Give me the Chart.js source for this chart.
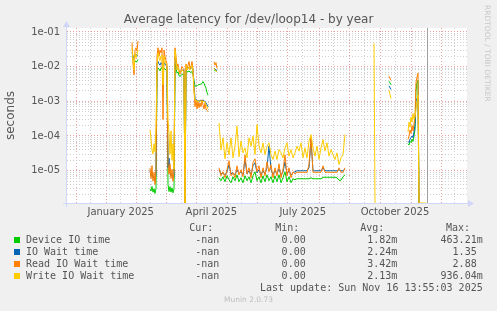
<!DOCTYPE html>
<html>
<head>
<meta charset="utf-8">
<title>Average latency for /dev/loop14 - by year</title>
<script src="https://cdn.jsdelivr.net/npm/chart.js@4.4.1/dist/chart.umd.min.js"></script>
<style>
  html, body { margin: 0; padding: 0; background: #f0f0f0; }
  #wrap { position: relative; width: 497px; height: 311px; overflow: hidden; }
  #chart { position: absolute; left: 0; top: 0; }
  .title { position: absolute; left: 0; top: 12px; width: 497px; text-align: center;
           font: 12px/14px "DejaVu Sans", sans-serif; color: #555; }
  .brand { position: absolute; left: 483px; top: 5px; writing-mode: vertical-rl;
           font: 7.5px/9px "DejaVu Sans", sans-serif; color: #c8c8c8; }
  .foot { position: absolute; left: 0; width: 497px; top: 295px; text-align: center;
          font: 7.5px/9px "DejaVu Sans", sans-serif; color: #bdbdbd; }
  .lt { position: absolute; white-space: pre; font: 10px/12px "DejaVu Sans Mono", monospace; color: #555; }
  .sw { position: absolute; left: 14px; width: 6px; height: 6px; }
</style>
</head>
<body>
<div id="wrap">
  <canvas id="chart" width="497" height="311"></canvas>
  <div class="title">Average latency for /dev/loop14 - by year</div>
  <div class="brand">RRDTOOL / TOBI OETIKER</div>
  <div id="legend"></div>
  <div class="foot">Munin 2.0.73</div>
</div>
<script>
// ===== DATA =====
// x position of every sample, in days from the left edge of the plot
const days = [
  65, 66, 67, 68, 69, 70, 71, 72,
  83, 84, 85, 86, 87, 88, 89, 90, 91, 92, 93, 94, 95, 96, 97, 98, 99, 100,
  101, 102, 103, 104, 105, 106, 107, 108, 109, 110, 111, 112, 113, 114, 115, 116, 117, 118, 119, 120,
  121, 122, 123, 124, 125, 126, 127, 128, 129, 130, 131, 132, 133, 134, 135, 136, 137, 138, 139, 140, 141, 142,
  147, 148, 149, 150, 151,
  152, 154, 156, 158, 160, 162, 164, 166, 168, 170, 172, 174, 176, 178, 180, 182, 184, 186, 188, 190,
  192, 194, 196, 198, 200, 202, 204, 206, 208, 210, 212, 214, 216, 218, 220, 222, 224, 226, 228, 230,
  232, 234, 236, 238, 240, 242, 244, 246, 248, 250, 252, 254, 256, 258, 260, 262, 264, 266, 268, 270,
  272, 274, 276, 278, 279,
  307, 308, 309,
  322, 324, 325,
  341, 342, 343, 344, 345, 346, 347, 348, 349, 350, 351, 352, 359, 360
];

const deviceIO = [
  0.02, 0.017, 0.016, 0.015, 0.0135, 0.014, 0.016, null,
  3e-6, 2.6e-6, 3.5e-6, 2.4e-6, 3e-6, 2.2e-6, 3e-6,
  0.008, 0.009, 0.0085, 0.0075, 0.009, 0.0095, 0.007, 0.009, 0.0085, 0.008, 0.0075,
  4e-6, 2.5e-6, 3.5e-6, 2.4e-6, 3.2e-6, 2.3e-6, 3e-6,
  0.012, 0.009, 0.0065, 0.007, 0.0055, 0.0052, 0.0055, 0.006, 0.006, 0.0058,
  0,
  0.008, 0.007, 0.0072, 0.0075, 0.007, 0.0068, 0.0072, 0.006,
  0.004, 0.0028, 0.0027, 0.0028, 0.003, 0.003, 0.0031, 0.0031, 0.0033, 0.0037, 0.0033, 0.0028, 0.0024, 0.0018, 0.0015,
  null,
  0.008, 0.0078, 0.0074, 0.0071, null,
  6.25e-6, 5.13e-6, 6.68e-6, 4.8e-6, 7.14e-6, 5.48e-6, 4.49e-6, 6.68e-6, 5.13e-6, 7.62e-6,
  4.8e-6, 6.25e-6, 4.49e-6, 7.14e-6, 5.13e-6, 6.68e-6, 4.49e-6, 7.14e-6, 9.3e-6, 5.13e-6,
  6.68e-6, 4.49e-6, 7.14e-6, 4.8e-6, 7.62e-6, 5.13e-6, 6.68e-6, 4.49e-6, 7.14e-6, 4.8e-6,
  7.62e-6, 4.49e-6, 6.25e-6, 9.3e-6, 4.8e-6, 6.68e-6, 4.49e-6, 5.85e-6, 5.48e-6,
  5.85e-6, 5.85e-6, 5.85e-6, 5.85e-6, 5.85e-6, 5.85e-6, 5.85e-6, 6.25e-6, 5.85e-6, 5.85e-6, 5.85e-6, 5.85e-6, 5.85e-6,
  6.46e-6, 6.46e-6, 6.46e-6, 6.46e-6, 6.46e-6, 6.46e-6, 6.46e-6, 6.25e-6, 5.3e-6, 5.3e-6, 6.68e-6, 7.62e-6,
  null,
  null, null, null,
  0.0038, 0.003, null,
  6e-5, 5.5e-5, 7e-5, 6.5e-5, 8e-5, 7e-5, 1e-4, 1.5e-4, 0.002, 0.0035, 0.004, 0, null, null
];

const ioWait = [
  0.026, 0.02, 0.018, 0.022, 0.023, 0.021, 0.02, null,
  1e-5, 7e-6, 9e-6, 6e-6, 7e-6, 5e-6, 8e-6,
  0.012, 0.014, 0.012, 0.011, 0.013, 0.012, 0.008, 0.013, 0.012, 0.011, 0.01,
  1.2e-5, 2.3e-5, 9e-6, 7e-6, 8e-6, 6e-6, 7e-6,
  0.02, 0.012, 0.0085, 0.009, 0.0075, 0.007, 0.0072, 0.008, 0.0078, 0.0075,
  0,
  0.0095, 0.008, 0.009, 0.0095, 0.0085, 0.009, 0.0095, 0.008,
  0.003, 0.0012, 0.0011, 0.0011, 0.001, 0.00105, 0.001, 0.0011, 0.001, 0.0011, 0.001, 0.001, 0.0009, 0.0008, 0.0007,
  null,
  0.009, 0.0085, 0.008, 0.0078, null,
  1.06e-5, 8.15e-6, 8.7e-6, 7.62e-6, 9.3e-6, 1.48e-5, 8.15e-6, 8.7e-6, 7.62e-6, 1.06e-5,
  8.15e-6, 9.3e-6, 7.62e-6, 2.06e-5, 8.15e-6, 9.93e-6, 7.62e-6, 1.38e-5, 1.69e-5, 8.7e-6,
  1.06e-5, 7.62e-6, 9.93e-6, 8.15e-6, 1.21e-5, 5.19e-5, 1.06e-5, 7.62e-6, 9.93e-6, 8.15e-6,
  1.13e-5, 7.62e-6, 9.3e-6, 1.8e-5, 8.15e-6, 9.93e-6, 7.62e-6, 8.7e-6, 9.3e-6,
  9.93e-6, 9.93e-6, 9.93e-6, 9.93e-6, 9.93e-6, 9.93e-6, 1.21e-5, 7.73e-5, 9.93e-6, 9.93e-6, 9.93e-6, 9.93e-6, 9.93e-6,
  1.21e-5, 9.93e-6, 9.93e-6, 9.93e-6, 9.93e-6, 9.93e-6, 9.93e-6, 9.93e-6, 1.06e-5, 9.93e-6, 9.93e-6, 1.13e-5,
  null,
  null, null, null,
  0.0028, 0.0022, null,
  7e-5, 6.5e-5, 8e-5, 9e-5, 1e-4, 9e-5, 1.3e-4, 2e-4, 0.001, 0.0012, 0.0011, 0, null, null
];

const readWait = [
  0.05, 0.0125, 0.0058, 0.03, 0.035, 0.028, 0.055, null,
  1.2e-5, 6e-6, 1.4e-5, 5e-6, 9e-6, 4e-6, 1e-5,
  0.02, 0.035, 0.02, 0.03, 0.025, 0.035, 3e-4, 0.03, 0.02, 0.015, 0.012,
  1.5e-5, 8e-6, 1.6e-5, 6e-6, 1.1e-5, 5e-6, 9e-6,
  0.035, 0.02, 0.01, 0.012, 0.008, 0.006, 0.008, 0.01, 0.009, 0.008,
  0,
  0.012, 0.008, 0.011, 0.014, 0.009, 0.01, 0.014, 0.008,
  0.002, 7e-4, 0.0011, 6e-4, 0.001, 6.5e-4, 9e-4, 7e-4, 0.0011, 8e-4, 6e-4, 9e-4, 6e-4, 5.5e-4, 5e-4,
  null,
  0.014, 0.011, 0.013, 0.009, null,
  1.21e-5, 7.14e-6, 9.3e-6, 6.25e-6, 1.06e-5, 1.93e-5, 7.14e-6, 8.7e-6, 6.25e-6, 1.38e-5,
  7.62e-6, 1.06e-5, 6.68e-6, 2.86e-5, 8.15e-6, 1.21e-5, 6.25e-6, 1.69e-5, 2.2e-5, 9.3e-6,
  1.38e-5, 6.25e-6, 1.21e-5, 7.14e-6, 1.8e-5, 9.3e-6, 1.48e-5, 6.25e-6, 1.21e-5, 7.14e-6,
  1.58e-5, 6.25e-6, 1.06e-5, 2.86e-5, 7.14e-6, 1.21e-5, 6.25e-6, 9.3e-6, 8.15e-6,
  9e-6, 9e-6, 9e-6, 9e-6, 9e-6, 9e-6, 1.48e-5, 9.4e-5, 9e-6, 9e-6, 9e-6, 9e-6, 9e-6,
  1.38e-5, 9e-6, 9e-6, 9e-6, 9e-6, 9e-6, 9e-6, 9e-6, 1.21e-5, 9e-6, 9e-6, 1.21e-5,
  null,
  null, null, null,
  0.0053, 0.004, null,
  8e-5, 1e-4, 1.5e-4, 1.2e-4, 2e-4, 1.4e-4, 2.2e-4, 4e-4, 0.0035, 0.005, 0.0065, 0, null, null
];

const writeWait = [
  0.035, 0.015, 0.008, 0.025, 0.018, 0.022, 0.03, null,
  1.5e-4, 8e-5, 4e-5, 3e-5, 6e-5, 3.5e-5, 2e-4,
  0.01, 0.025, 0.018, 0.015, 0.02, 0.022, 0.003, 0.02, 0.015, 0.012, 0.01,
  3e-4, 1.2e-4, 3e-5, 1.4e-4, 2e-5, 6e-5, 1.1e-5,
  0.03, 0.015, 0.008, 0.01, 0.007, 0.0065, 0.007, 0.008, 0.0075, 0.007,
  0,
  0.011, 0.008, 0.009, 0.01, 0.008, 0.009, 0.011, 0.007,
  0.002, 0.0011, 0.001, 0.00105, 0.001, 0.001, 0.00105, 0.001, 0.00095, 0.001, 0.001, 0.00095, 0.0008, 0.0007, 0.0006,
  null,
  0.009, 0.008, 0.0075, 0.007, null,
  2.38e-4, 3.99e-5, 8.82e-5, 2.2e-5, 6.33e-5, 2.86e-5, 8.82e-5, 2.35e-5, 5.19e-5, 1.95e-4,
  2.51e-5, 7.23e-5, 3.27e-5, 4.55e-5, 2.35e-5, 8.82e-5, 5.09e-5, 9.87e-5, 2.92e-5, 2.13e-4,
  5.09e-5, 3.27e-5, 6.33e-5, 2.92e-5, 5.09e-5, 6.33e-5, 2.92e-5, 2.1e-5, 3.66e-5, 2.1e-5,
  4.07e-5, 3.27e-5, 2.35e-5, 4.55e-5, 6.33e-5, 2.63e-5, 4.07e-5, 2.35e-5, 3.27e-5,
  5.09e-5, 3.66e-5, 6.33e-5, 2.35e-5, 4.55e-5, 2.35e-5, 7.09e-5, 1.1e-4, 4.55e-5, 2.63e-5, 5.09e-5, 2.1e-5, 4.55e-5,
  7.88e-5, 3.66e-5, 6.33e-5, 2.63e-5, 4.07e-5, 2.92e-5, 2.1e-5, 3.27e-5, 1.51e-5, 2.35e-5, 2.92e-5, 1.1e-4,
  null,
  0.047, 0, null,
  0.0021, 0.0012, null,
  1.3e-4, 2.5e-4, 1.8e-4, 3.5e-4, 2.5e-4, 4.5e-4, 3e-4, 3.5e-4, 6e-4, 0.001, 0.0015, 0, 0, null
];

const seriesNames = ['Device IO time', 'IO Wait time', 'Read IO Wait time', 'Write IO Wait time'];
const seriesColors = ['#00cc00', '#0066b3', '#ff8000', '#ffcc00'];
const curVals = ['-nan', '-nan', '-nan', '-nan'];
const minVals = ['0.00', '0.00', '0.00', '0.00'];
const avgVals = ['1.82m', '2.24m', '3.42m', '2.13m'];
const maxVals = ['463.21m', '1.35 ', '2.88 ', '936.04m'];
const lastUpdate = 'Last update: Sun Nov 16 13:55:03 2025';

// axis
const yFloor = 1.17e-6;
const yCeil = 0.13;
const xSpan = 400;
const majorDays = [9, 39, 69, 99, 129, 160, 190, 220, 252, 282, 313, 344, 374];
const monthDays = [23, 53.7, 83.7, 114, 144.3, 174.7, 204.7, 235.7, 266.3, 297.3, 328, 387];
const labelDays = [53.7, 144.3, 235.7, 328];
const labelTexts = ['January 2025', 'April 2025', 'July 2025', 'October 2025'];
const nowDay = 359.5;

// ===== CHART =====
// rrdtool draws zero at the bottom of the axis
const toPoints = vals => days.map((d, i) => ({ x: d, y: vals[i] === 0 ? yFloor : vals[i] }));

const allSeries = [deviceIO, ioWait, readWait, writeWait];

const rrdFrame = {
  id: 'rrdFrame',
  beforeDraw(chart) {
    const { ctx, chartArea: a } = chart;
    ctx.save();
    ctx.fillStyle = '#f0f0f0';
    ctx.fillRect(0, 0, chart.width, chart.height);
    ctx.fillStyle = '#ffffff';
    ctx.fillRect(a.left, a.top, a.right - a.left, a.bottom - a.top);
    ctx.restore();
  },
  afterDraw(chart) {
    const { ctx, chartArea: a, scales } = chart;
    ctx.save();
    ctx.lineWidth = 1;
    // vertical rule
    const xr = Math.round(scales.x.getPixelForValue(nowDay)) + 0.5;
    ctx.strokeStyle = '#a0a0a0';
    ctx.beginPath();
    ctx.moveTo(xr, a.top);
    ctx.lineTo(xr, a.bottom);
    ctx.stroke();
    // axes + arrows
    ctx.strokeStyle = '#cfd6f8';
    ctx.fillStyle = '#cfd6f8';
    const x0 = a.left - 0.5, y0 = a.bottom + 0.5;
    ctx.beginPath();
    ctx.moveTo(a.left - 4, y0);
    ctx.lineTo(a.right + 2, y0);
    ctx.moveTo(x0, a.bottom + 4);
    ctx.lineTo(x0, a.top - 1);
    ctx.stroke();
    ctx.beginPath();
    ctx.moveTo(a.right + 1, y0 - 3.5);
    ctx.lineTo(a.right + 7, y0);
    ctx.lineTo(a.right + 1, y0 + 3.5);
    ctx.closePath();
    ctx.fill();
    ctx.beginPath();
    ctx.moveTo(x0 - 3.5, a.top - 1);
    ctx.lineTo(x0, a.top - 7);
    ctx.lineTo(x0 + 3.5, a.top - 1);
    ctx.closePath();
    ctx.fill();
    ctx.restore();
  }
};

const isDecade = v => Math.abs(Math.log10(v) - Math.round(Math.log10(v))) < 1e-9;

new Chart(document.getElementById('chart'), {
  type: 'line',
  data: {
    datasets: allSeries.map((vals, i) => ({
      label: seriesNames[i],
      data: toPoints(vals),
      borderColor: seriesColors[i],
      borderWidth: 1,
      pointRadius: 0,
      tension: 0,
      fill: false,
      spanGaps: false,
      order: 4 - i
    }))
  },
  options: {
    responsive: false,
    devicePixelRatio: 1,
    animation: false,
    layout: { padding: { top: 28, right: 30, bottom: 0, left: 0 }, autoPadding: false },
    plugins: { legend: { display: false }, tooltip: { enabled: false } },
    scales: {
      x: {
        type: 'linear',
        min: 0,
        max: xSpan,
        afterFit: s => { s.height = 108; },
        afterBuildTicks: s => {
          s.ticks = majorDays.concat(monthDays).sort((a, b) => a - b).map(v => ({ value: v }));
        },
        grid: {
          drawTicks: false,
          lineWidth: 1,
          color: c => majorDays.includes(c.tick.value) ? '#eaa2a2' : '#d0d0d0'
        },
        border: { display: false, dash: [1, 2] },
        ticks: {
          autoSkip: false,
          maxRotation: 0,
          minRotation: 0,
          padding: 3,
          color: '#555',
          font: { family: 'DejaVu Sans', size: 10 },
          callback: v => {
            const k = labelDays.indexOf(v);
            return k >= 0 ? labelTexts[k] : '';
          }
        }
      },
      y: {
        type: 'logarithmic',
        min: yFloor,
        max: yCeil,
        afterFit: s => { s.width = 67; },
        afterBuildTicks: s => {
          const t = [];
          for (let e = -7; e <= 0; e++) {
            for (let m = 1; m <= 9; m++) {
              const v = Number(m + 'e' + e);
              if (v >= yFloor && v <= yCeil) t.push({ value: v });
            }
          }
          s.ticks = t;
        },
        grid: {
          drawTicks: false,
          lineWidth: 1,
          color: c => isDecade(c.tick.value) ? '#eaa2a2' : '#d0d0d0'
        },
        border: { display: false, dash: [1, 2] },
        title: {
          display: true,
          text: 'seconds',
          color: '#555',
          font: { family: 'DejaVu Sans', size: 12 },
          padding: { top: 4, bottom: 0 }
        },
        ticks: {
          autoSkip: false,
          padding: 7,
          color: '#555',
          font: { family: 'DejaVu Sans', size: 10 },
          callback: v => {
            if (!isDecade(v)) return '';
            const e = Math.round(Math.log10(v));
            return '1e' + (e < 0 ? '-' : '+') + String(Math.abs(e)).padStart(2, '0');
          }
        }
      }
    }
  },
  plugins: [rrdFrame]
});

// ===== LEGEND =====
const legend = document.getElementById('legend');
function put(text, top, right, left) {
  const d = document.createElement('div');
  d.className = 'lt';
  d.textContent = text;
  d.style.top = top + 'px';
  if (left !== undefined) d.style.left = left + 'px';
  else d.style.right = right + 'px';
  legend.appendChild(d);
}
put('Cur:', 221.5, 283.7);
put('Min:', 221.5, 197.7);
put('Avg:', 221.5, 112.7);
put('Max:', 221.5, 27);
seriesNames.forEach((name, i) => {
  const top = 233.8 + i * 12;
  const sw = document.createElement('div');
  sw.className = 'sw';
  sw.style.top = (top + 3.5) + 'px';
  sw.style.background = seriesColors[i];
  legend.appendChild(sw);
  put(name, top, 0, 26);
  put(curVals[i], top, 277.7);
  put(minVals[i], top, 191.3);
  put(avgVals[i], top, 99.7);
  put(maxVals[i], top, 14.3);
});
put(lastUpdate, 281.5, 14.3);
</script>
</body>
</html>
